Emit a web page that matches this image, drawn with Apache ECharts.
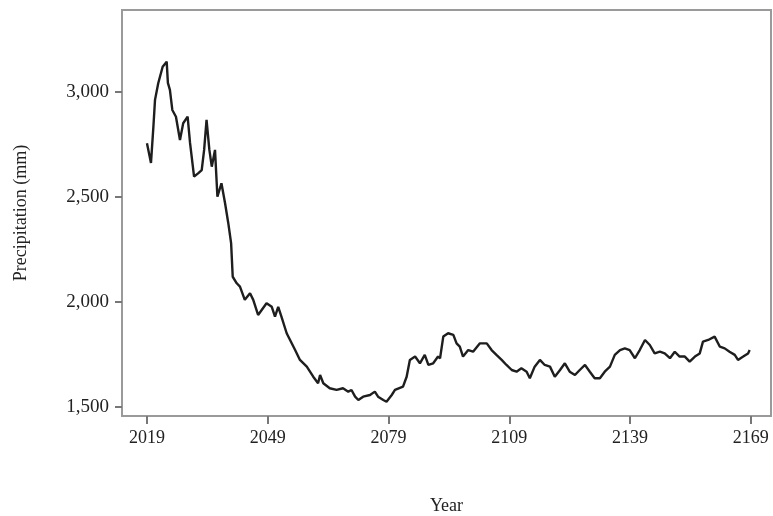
<!DOCTYPE html>
<html>
<head>
<meta charset="utf-8">
<script src="https://cdn.jsdelivr.net/npm/echarts@6/dist/echarts.min.js"></script>
<style>html,body{margin:0;padding:0;background:#fff}#c{width:773px;height:516px}</style>
</head>
<body>
<div id="c"></div>
<script>
const years = [2019,2020.0,2020.6,2021.0,2021.8,2022.9,2023.9,2024.2,2024.7,2025.3,2026.2,2027.2,2028.0,2029.1,2029.7,2030.7,2031.7,2032.6,2033.2,2033.8,2034.5,2035.1,2035.9,2036.5,2037.5,2038.4,2039.2,2039.9,2040.3,2041.3,2042.1,2043.3,2044.6,2045.4,2046.6,2047.5,2048.7,2050.0,2050.8,2051.6,2052.4,2053.7,2055.8,2057.0,2058.7,2060.3,2061.5,2062.0,2062.8,2064.4,2066.1,2067.7,2069.0,2069.8,2070.7,2071.5,2072.7,2074.4,2075.6,2076.4,2077.7,2078.5,2079.8,2080.6,2082.6,2083.5,2084.3,2085.6,2086.8,2088.0,2088.9,2090.1,2091.3,2091.8,2092.6,2093.8,2095.1,2095.9,2096.7,2097.5,2098.8,2100.0,2101.7,2103.4,2104.6,2105.8,2107.1,2108.3,2109.6,2110.8,2112.0,2113.3,2114.1,2115.3,2116.6,2117.8,2119.1,2120.3,2121.6,2122.8,2124.0,2125.3,2126.5,2127.8,2129.0,2130.2,2131.5,2132.7,2134.0,2135.2,2136.5,2137.7,2138.9,2140.2,2141.4,2142.7,2143.9,2145.1,2146.4,2147.6,2148.9,2150.1,2151.3,2152.6,2153.8,2155.1,2156.3,2157.1,2158.4,2160.0,2161.3,2162.5,2163.7,2165.0,2165.8,2167.1,2168.3,2168.7];
const precipitation = [2756,2662,2835,2962,3041,3120,3144,3043,3010,2914,2882,2771,2851,2882,2757,2597,2612,2628,2724,2867,2724,2644,2724,2501,2565,2470,2375,2280,2120,2089,2073,2010,2041,2010,1938,1962,1994,1977,1930,1977,1930,1851,1771,1724,1692,1644,1613,1652,1613,1589,1581,1589,1573,1581,1549,1533,1549,1557,1573,1549,1533,1525,1557,1581,1597,1644,1724,1740,1708,1748,1700,1708,1740,1732,1835,1851,1843,1803,1787,1740,1771,1763,1803,1803,1771,1748,1724,1700,1676,1668,1684,1668,1637,1692,1724,1700,1692,1644,1676,1708,1668,1652,1676,1700,1668,1637,1637,1668,1692,1748,1771,1779,1771,1732,1771,1819,1795,1755,1763,1755,1732,1763,1740,1740,1716,1740,1755,1811,1819,1835,1787,1779,1763,1748,1724,1740,1755,1771];
const xTickLabels = [2019,2049,2079,2109,2139,2169];
const yTickValues = [1500,2000,2500,3000];

const chart = echarts.init(document.getElementById('c'));
const font = '"Liberation Serif", "Times New Roman", serif';
chart.setOption({
  animation: false,
  backgroundColor: '#fff',
  grid: {left: 122, top: 10, right: 2, bottom: 100, show: true, borderColor: '#9a9a9a', borderWidth: 2,
    containLabel: false, outerBoundsMode: 'none'},
  xAxis: {
    type: 'value', min: 2012.8, max: 2174,
    name: 'Year', nameLocation: 'middle', nameGap: 81,
    nameTextStyle: {fontFamily: font, fontSize: 18, color: '#222'},
    axisLine: {show: true, lineStyle: {color: '#9a9a9a', width: 2}},
    axisTick: {show: true, customValues: xTickLabels, length: 8, lineStyle: {color: '#777', width: 2}},
    axisLabel: {customValues: xTickLabels, fontFamily: font, fontSize: 18, color: '#222', margin: 13,
      formatter: v => String(v)},
    splitLine: {show: false}
  },
  yAxis: {
    type: 'value', min: 1457, max: 3390,
    name: 'Precipitation (mm)', nameLocation: 'middle', nameGap: 92,
    nameTextStyle: {fontFamily: font, fontSize: 18, color: '#222'},
    axisLine: {show: true, lineStyle: {color: '#9a9a9a', width: 2}},
    axisTick: {show: true, customValues: yTickValues, length: 7, lineStyle: {color: '#777', width: 2}},
    axisLabel: {customValues: yTickValues, fontFamily: font, fontSize: 19, color: '#222', margin: 13,
      formatter: v => v.toLocaleString('en-US')},
    splitLine: {show: false}
  },
  series: [{
    type: 'line', data: years.map((y, i) => [y, precipitation[i]]),
    showSymbol: false, smooth: false,
    lineStyle: {color: '#1e1e1e', width: 2.4}
  }]
});
</script>
</body>
</html>
